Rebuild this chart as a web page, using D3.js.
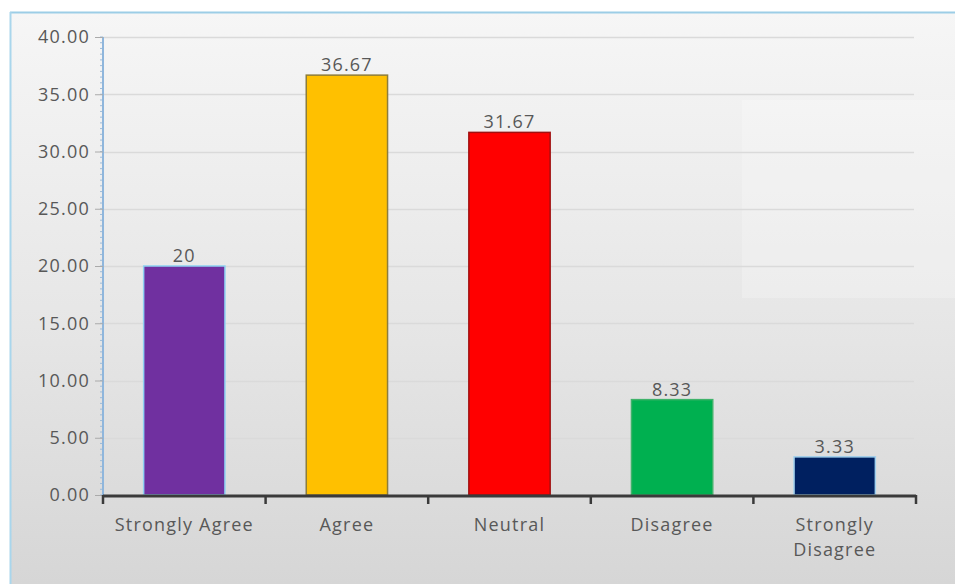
<!DOCTYPE html>
<html>
<head>
<meta charset="utf-8">
<script src="https://cdn.jsdelivr.net/npm/d3@7"></script>
<style>
  html, body { margin: 0; padding: 0; background: #ffffff; }
  svg { display: block; }
  text { font-family: "Open Sans", "Noto Sans", sans-serif; letter-spacing: 1.2px; }
</style>
</head>
<body>
<svg id="chart" width="955" height="584"></svg>
<script>
// Survey responses (percent)
const categories = ["Strongly Agree", "Agree", "Neutral", "Disagree", "Strongly Disagree"];
const values = [20, 36.67, 31.67, 8.33, 3.33];
const valueLabels = ["20", "36.67", "31.67", "8.33", "3.33"];
const barColors = ["#7030a0", "#ffc000", "#ff0000", "#00b050", "#002060"];
const barStrokes = ["#8fd2f2", "#8c7d3c", "#a01010", "#3fb36a", "#9fd0ee"];
const yTicks = [0, 5, 10, 15, 20, 25, 30, 35, 40];

const svg = d3.select("#chart");
const W = 955, H = 584;
const frame = { x: 10, y: 12 };
const plot = { left: 103, right: 916, top: 37, bottom: 495 };
const FS = 18;

// Background gradient panel
const defs = svg.append("defs");
const grad = defs.append("linearGradient").attr("id", "bg").attr("x1", 0).attr("y1", 0).attr("x2", 0).attr("y2", 1);
grad.append("stop").attr("offset", "0%").attr("stop-color", "#f6f6f6");
grad.append("stop").attr("offset", "55%").attr("stop-color", "#e6e6e6");
grad.append("stop").attr("offset", "100%").attr("stop-color", "#d6d6d6");

svg.append("rect").attr("x", frame.x).attr("y", frame.y)
  .attr("width", W - frame.x).attr("height", H - frame.y)
  .attr("fill", "url(#bg)");
// frame edges
svg.append("line").attr("x1", frame.x).attr("x2", W).attr("y1", frame.y + 0.5).attr("y2", frame.y + 0.5)
  .attr("stroke", "#9ccde6").attr("stroke-width", 2);
svg.append("line").attr("x1", frame.x + 0.5).attr("x2", frame.x + 0.5).attr("y1", frame.y).attr("y2", H)
  .attr("stroke", "#a9d6ec").attr("stroke-width", 2);
// faint lighter panel on the right
svg.append("rect").attr("x", 742).attr("y", 100).attr("width", 213).attr("height", 198)
  .attr("fill", "#ffffff").attr("opacity", 0.22);

const x = d3.scaleBand().domain(categories).range([plot.left, plot.right]).paddingInner(0.5).paddingOuter(0.25);
const y = d3.scaleLinear().domain([0, 40]).range([plot.bottom, plot.top]);

// Gridlines
svg.append("g").selectAll("line").data(yTicks.filter(d => d > 0)).join("line")
  .attr("x1", plot.left).attr("x2", plot.right - 2)
  .attr("y1", d => Math.round(y(d)) + 0.5).attr("y2", d => Math.round(y(d)) + 0.5)
  .attr("stroke", "#dadada").attr("stroke-width", 1.5);

// Bars
svg.append("g").selectAll("rect").data(values).join("rect")
  .attr("x", (d, i) => x(categories[i]))
  .attr("y", d => y(d))
  .attr("width", x.bandwidth())
  .attr("height", d => y(0) - y(d))
  .attr("fill", (d, i) => barColors[i])
  .attr("stroke", (d, i) => barStrokes[i])
  .attr("stroke-width", 1.5);

// Value labels
svg.append("g").selectAll("text").data(values).join("text")
  .attr("x", (d, i) => x(categories[i]) + x.bandwidth() / 2)
  .attr("y", d => y(d) - 4)
  .attr("text-anchor", "middle")
  .attr("font-size", FS).attr("fill", "#585858")
  .text((d, i) => valueLabels[i]);

// Y axis: minor ticks
const minor = d3.range(0, 40.01, 0.5);
svg.append("g").selectAll("line").data(minor).join("line")
  .attr("x1", plot.left - 3).attr("x2", plot.left)
  .attr("y1", d => y(d)).attr("y2", d => y(d))
  .attr("stroke", "#9dbbd8").attr("stroke-width", 1);

const yAxis = d3.axisLeft(y).tickValues(yTicks).tickFormat(d3.format(".2f")).tickSize(8).tickPadding(5);
const gy = svg.append("g").attr("transform", `translate(${plot.left},0)`).call(yAxis);
gy.select(".domain").attr("stroke", "#8fb6dc").attr("stroke-width", 2).attr("d", `M0,${plot.top}V${plot.bottom}`);
gy.selectAll(".tick line").attr("stroke", "#aaaaaa").attr("stroke-width", 1);
gy.selectAll(".tick text").attr("font-size", FS).attr("fill", "#585858")
  .style("font-family", "'Open Sans', 'Noto Sans', sans-serif");

// X axis
const bounds = d3.range(0, categories.length + 1).map(i => plot.left + i * (plot.right - plot.left) / categories.length);
svg.append("line").attr("x1", plot.left).attr("x2", plot.right)
  .attr("y1", plot.bottom + 1).attr("y2", plot.bottom + 1)
  .attr("stroke", "#3a3a3a").attr("stroke-width", 3);
svg.append("g").selectAll("line").data(bounds).join("line")
  .attr("x1", d => d).attr("x2", d => d)
  .attr("y1", plot.bottom).attr("y2", plot.bottom + 9)
  .attr("stroke", "#3a3a3a").attr("stroke-width", 2.5);

// Category labels (wrap "Strongly Disagree")
const catLabels = svg.append("g").selectAll("text").data(categories).join("text")
  .attr("x", d => x(d) + x.bandwidth() / 2)
  .attr("y", 531)
  .attr("text-anchor", "middle")
  .attr("font-size", FS).attr("fill", "#585858");
catLabels.each(function(d, i) {
  const t = d3.select(this);
  const lines = (i === categories.length - 1) ? d.split(" ") : [d];
  lines.forEach((ln, k) => {
    t.append("tspan").attr("x", x(d) + x.bandwidth() / 2).attr("dy", k === 0 ? 0 : 25).text(ln);
  });
});
</script>
</body>
</html>
